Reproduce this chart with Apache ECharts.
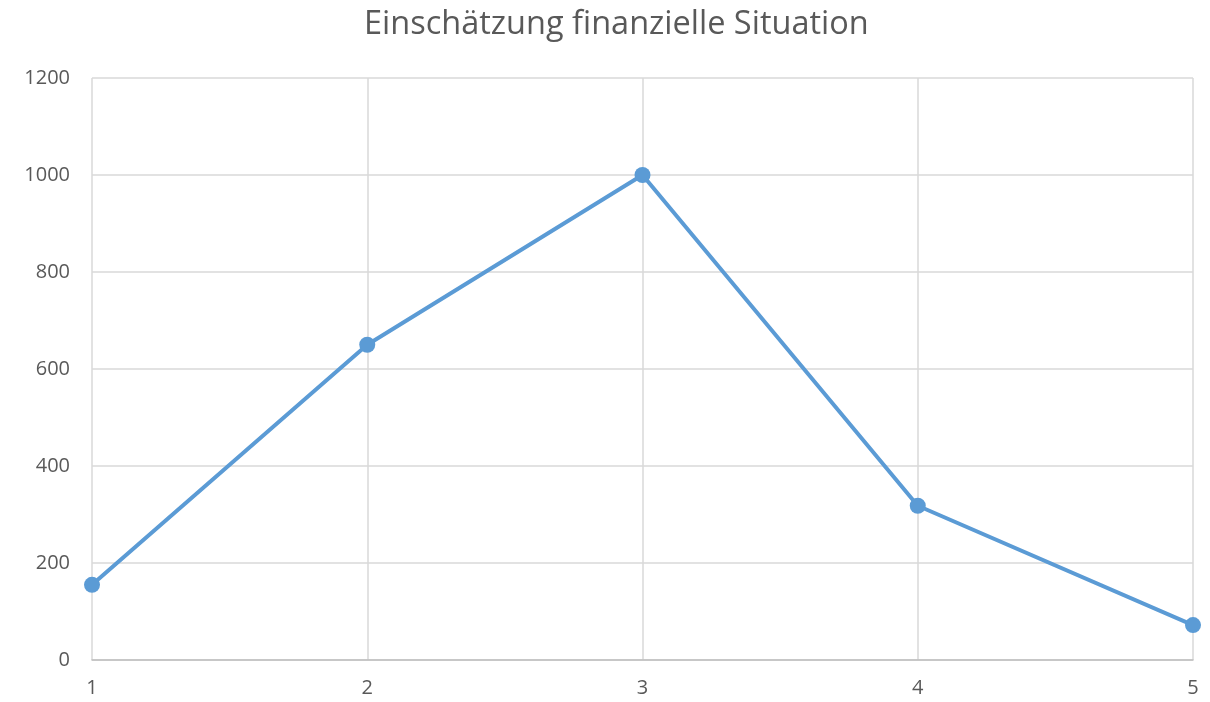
<!DOCTYPE html>
<html>
<head>
<meta charset="utf-8">
<script src="https://cdn.jsdelivr.net/npm/echarts@6/dist/echarts.min.js"></script>
<style>
  html, body { margin: 0; padding: 0; background: #fff; }
  #chart { width: 1210px; height: 702px; }
</style>
</head>
<body>
<div id="chart"></div>
<script>
const categories = ['1', '2', '3', '4', '5'];
const values = [155, 650, 1000, 318, 72];

const textColor = '#595959';
const gridColor = '#d9d9d9';
const lineColor = '#5b9bd5';

let myChart = echarts.init(document.getElementById('chart'));
let option = {
  title: {
    text: 'Einschätzung finanzielle Situation',
    left: 359,
    top: 3,
    textStyle: {
      color: textColor,
      fontSize: 32.5,
      fontWeight: 'normal',
      fontFamily: 'Open Sans'
    }
  },
  grid: {
    left: 92,
    right: 17,
    top: 78,
    bottom: 42
  },
  xAxis: {
    type: 'category',
    data: categories,
    boundaryGap: false,
    axisLine: { lineStyle: { color: '#bfbfbf', width: 1.5 } },
    axisTick: { show: false },
    axisLabel: {
      color: textColor,
      fontSize: 20,
      fontFamily: 'Open Sans',
      margin: 18
    },
    splitLine: { show: true, lineStyle: { color: gridColor, width: 1.5 } }
  },
  yAxis: {
    type: 'value',
    min: 0,
    max: 1200,
    interval: 200,
    axisLine: { show: false },
    axisTick: { show: false },
    axisLabel: {
      color: textColor,
      fontSize: 20,
      fontFamily: 'Open Sans',
      margin: 22,
      formatter: v => String(v)
    },
    splitLine: { lineStyle: { color: gridColor, width: 1.5 } }
  },
  series: [
    {
      type: 'line',
      data: values,
      symbol: 'circle',
      symbolSize: 16,
      lineStyle: { color: lineColor, width: 4 },
      itemStyle: { color: lineColor },
      animation: false
    }
  ]
};
myChart.setOption(option);
</script>
</body>
</html>
